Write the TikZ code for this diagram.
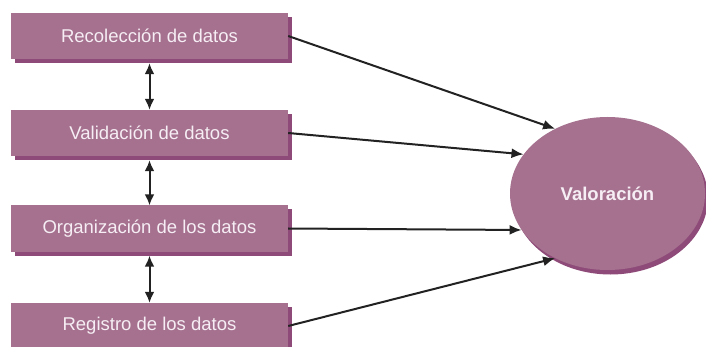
\documentclass[tikz,border=0pt]{standalone}
\usepackage{fontspec}
\setmainfont{Liberation Sans}
\usetikzlibrary{shadows,arrows.meta,shapes.geometric}
\definecolor{boxfill}{HTML}{A5718F}
\definecolor{boxshad}{HTML}{8E4A78}
\definecolor{txt}{HTML}{F6EEF4}
\definecolor{arr}{HTML}{222222}
\tikzset{
  stepbox/.style={draw=none, fill=boxfill, minimum width=277pt, minimum height=46pt,
    inner sep=0pt, text=txt, font=\fontsize{18.5}{21}\selectfont,
    drop shadow={shadow xshift=3.5pt, shadow yshift=-4pt, fill=boxshad, opacity=1}},
  valnode/.style={ellipse, draw=none, fill=boxfill, minimum width=195pt, minimum height=153pt,
    inner sep=0pt, text=txt, font=\fontsize{18.5}{21}\selectfont\bfseries,
    drop shadow={shadow xshift=3pt, shadow yshift=-4.5pt, fill=boxshad, opacity=1}},
  conn/.style={draw=arr, line width=2pt, -{Latex[length=12pt,width=10pt]}},
  dconn/.style={draw=arr, line width=2pt, {Latex[length=11pt,width=10pt]}-{Latex[length=11pt,width=10pt]}}
}
\begin{document}
\begin{tikzpicture}[x=1pt,y=1pt]
\useasboundingbox (0,0) rectangle (706,-347);
\node[stepbox] (b1) at (149.5,-36) {Recolección de datos};
\node[stepbox] (b2) at (149.5,-133) {Validación de datos};
\node[stepbox] (b3) at (149.5,-228.5) {Organización de los datos};
\node[stepbox] (b4) at (149.5,-326) {Registro de los datos};
\node[valnode] (v) at (607.5,-193.5) {Valoración};
\draw[dconn] ([yshift=-4pt]b1.south) -- (b2.north);
\draw[dconn] ([yshift=-4pt]b2.south) -- (b3.north);
\draw[dconn] ([yshift=-4pt]b3.south) -- (b4.north);
\draw[conn] (b1.east) -- (v.129.6);
\draw[conn] (b2.east) -- (v.155.8);
\draw[conn] (b3.east) -- (v.203);
\draw[conn] (b4.east) -- (v.231.7);
\end{tikzpicture}
\end{document}
